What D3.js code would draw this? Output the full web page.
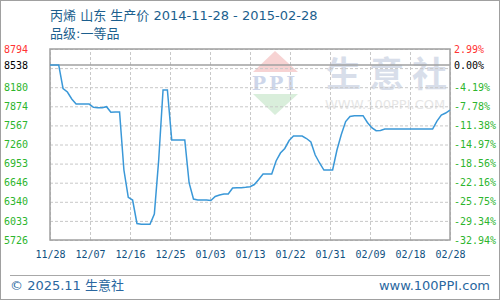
<!DOCTYPE html>
<html>
<head>
<meta charset="utf-8">
<script src="https://cdn.jsdelivr.net/npm/d3@7"></script>
<style>
  body { margin: 0; background: #fff; }
  svg { display: block; }
</style>
</head>
<body>
<div id="chart"></div>
<script>
// daily prices from 2014-11-28 to 2015-02-28
const startDate = new Date(2014, 10, 28);
const endDate = new Date(2015, 1, 28);
const prices = [
    8538, 8538, 8538, 8160, 8103, 7991, 7910, 7910, 7910, 7910,
    7857, 7851, 7851, 7867, 7777, 7782, 7782, 6850, 6412, 6368,
    5991, 5978, 5978, 5978, 6144, 7011, 8135, 8135, 7332, 7332,
    7332, 7332, 6642, 6384, 6368, 6368, 6368, 6360, 6425, 6449,
    6465, 6465, 6561, 6566, 6566, 6572, 6582, 6617, 6698, 6786,
    6786, 6786, 6995, 7123, 7196, 7324, 7396, 7396, 7396, 7356,
    7300, 7091, 6963, 6850, 6850, 6850, 7172, 7420, 7629, 7710,
    7723, 7723, 7723, 7613, 7530, 7482, 7485, 7509, 7509, 7509,
    7509, 7509, 7509, 7509, 7509, 7509, 7509, 7509, 7509, 7637,
    7734, 7766, 7814
];
const basePrice = 8538;
const yMin = 5726, yMax = 8794;

const xLabels = ["11/28", "12/07", "12/16", "12/25", "01/03", "01/13", "01/22", "01/31", "02/09", "02/18", "02/28"];
const leftValues = [8794, 8538, 8180, 7874, 7567, 7260, 6953, 6646, 6340, 6033, 5726];
const leftLabels = ["8794", "8538", "8180", "7874", "7567", "7260", "6953", "6646", "6340", "6033", "5726"];
const rightLabels = ["2.99%", "0.00%", "-4.19%", "-7.78%", "-11.38%", "-14.97%", "-18.56%", "-22.16%", "-25.75%", "-29.34%", "-32.94%"];

const title = "丙烯 山东 生产价 2014-11-28 - 2015-02-28";
const subtitle = "品级:一等品";

document.addEventListener('DOMContentLoaded', () => {
    const W = 500, H = 300;
    const margin = { top: 49, right: 50, bottom: 60, left: 50 },
        width = W - margin.left - margin.right,
        height = H - margin.top - margin.bottom;

    const svg = d3.select("#chart")
        .append("svg")
        .attr("width", W)
        .attr("height", H);

    // outer frame
    svg.append("rect")
        .attr("x", 0.5).attr("y", 0.5)
        .attr("width", W - 1).attr("height", H - 1)
        .attr("fill", "#fff")
        .attr("stroke", "#a0a0a0");

    const cjk = "'DejaVu Sans', 'Noto Sans CJK SC', sans-serif";
    const mono = "'DejaVu Sans Mono', monospace";

    svg.append("text")
        .attr("x", 50).attr("y", 20)
        .attr("fill", "#1c5f8e")
        .style("font", `13px ${cjk}`)
        .text(title);

    svg.append("text")
        .attr("x", 50).attr("y", 38)
        .attr("fill", "#1c5f8e")
        .style("font", `13px ${cjk}`)
        .text(subtitle);

    const g = svg.append("g")
        .attr("transform", `translate(${margin.left},${margin.top})`);

    const x = d3.scaleTime()
        .domain([startDate, endDate])
        .range([0, width]);

    const y = d3.scaleLinear()
        .domain([yMin, yMax])
        .range([height, 0]);

    // watermark
    const wm = g.append("g").attr("transform", "translate(-50,-49)");
    wm.append("path").attr("d", "M275,51 L298,72 L253,72 Z").attr("fill", "#f7d3d3");
    wm.append("text").attr("x", 275).attr("y", 90).attr("text-anchor", "middle")
        .attr("fill", "#cdd6ea").style("font", "bold 19px 'DejaVu Serif', serif")
        .style("letter-spacing", "3px").text("PPI");
    wm.append("path").attr("d", "M253,94 L298,94 L275,115 Z").attr("fill", "#d9eedb");
    wm.append("text").attr("x", 326).attr("y", 87)
        .attr("fill", "#d8deea").style("font", `bold 35px 'Noto Sans CJK SC', sans-serif`)
        .style("letter-spacing", "8px").text("生意社");
    wm.append("text").attr("x", 325).attr("y", 109)
        .attr("fill", "#e6e6e6").style("font", `13px 'DejaVu Sans', sans-serif`)
        .text("WWW.100PPI.COM");

    // grid
    const gridValues = d3.range(11).map(i => yMin + i * (yMax - yMin) / 10);
    const xTicks = d3.range(11).map(i => new Date(+startDate + i * (endDate - startDate) / 10));

    g.append("g")
        .call(d3.axisLeft(y).tickValues(gridValues).tickSize(-width).tickFormat(""))
        .call(a => a.select(".domain").remove())
        .selectAll("line")
        .attr("stroke", "#c8c8c8")
        .attr("stroke-dasharray", "3,2");

    g.append("g")
        .attr("transform", `translate(0,${height})`)
        .call(d3.axisBottom(x).tickValues(xTicks).tickSize(-height).tickFormat(""))
        .call(a => a.select(".domain").remove())
        .selectAll("line")
        .attr("stroke", "#c8c8c8")
        .attr("stroke-dasharray", "3,2");

    // base price line
    g.append("line")
        .attr("x1", 0).attr("x2", width)
        .attr("y1", y(basePrice)).attr("y2", y(basePrice))
        .attr("stroke", "#a0a0a0")
        .attr("stroke-width", 1.5);

    // plot frame
    g.append("rect")
        .attr("width", width).attr("height", height)
        .attr("fill", "none")
        .attr("stroke", "#a0a0a0")
        .attr("stroke-width", 1.5);

    const labelColor = i => i === 0 ? "#ff3333" : (i === 1 ? "#000" : "#2db52d");

    // left labels
    g.append("g")
        .call(d3.axisLeft(y).tickValues(leftValues).tickSize(0).tickFormat((d, i) => leftLabels[i]))
        .call(a => a.select(".domain").remove())
        .selectAll("text")
        .attr("x", -46)
        .attr("text-anchor", "start")
        .attr("fill", (d, i) => labelColor(i))
        .style("font", `10px ${mono}`);

    // right labels
    g.append("g")
        .attr("transform", `translate(${width},0)`)
        .call(d3.axisRight(y).tickValues(leftValues).tickSize(0).tickPadding(4).tickFormat((d, i) => rightLabels[i]))
        .call(a => a.select(".domain").remove())
        .selectAll("text")
        .attr("fill", (d, i) => labelColor(i))
        .style("font", `10px ${mono}`);

    // x labels
    g.append("g")
        .attr("transform", `translate(0,${height})`)
        .call(d3.axisBottom(x).tickValues(xTicks).tickSize(0).tickPadding(11).tickFormat((d, i) => xLabels[i]))
        .call(a => a.select(".domain").remove())
        .selectAll("text")
        .attr("fill", "#104f80")
        .style("font", `10px ${mono}`);

    // price line
    const line = d3.line()
        .x((d, i) => x(d3.timeDay.offset(startDate, i)))
        .y(d => y(d));

    g.append("path")
        .datum(prices)
        .attr("fill", "none")
        .attr("stroke", "#3a98d8")
        .attr("stroke-width", 1.5)
        .attr("d", line);

    // footer
    svg.append("line")
        .attr("x1", 10).attr("x2", 490)
        .attr("y1", 275.5).attr("y2", 275.5)
        .attr("stroke", "#a8a8a8");

    svg.append("text")
        .attr("x", 10).attr("y", 290)
        .attr("fill", "#2a67a0")
        .style("font", `13px ${cjk}`)
        .text("© 2025.11 生意社");

    svg.append("text")
        .attr("x", 490).attr("y", 290)
        .attr("text-anchor", "end")
        .attr("fill", "#2a67a0")
        .style("font", `13px ${cjk}`)
        .text("www.100PPI.com");
});
</script>
</body>
</html>
